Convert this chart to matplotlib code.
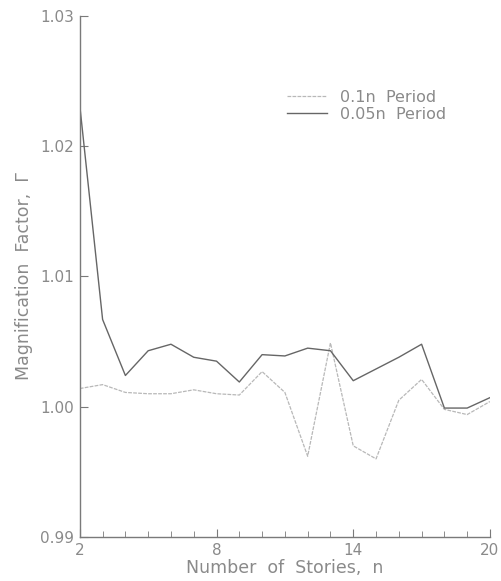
import matplotlib
matplotlib.use('Agg')
import matplotlib.pyplot as plt
import numpy as np

# Number of stories
stories = list(range(2, 21))

# Magnification factor for the two period assumptions
gamma_01n = [1.0014, 1.0017, 1.0011, 1.0010, 1.0010, 1.0013, 1.0010, 1.0009,
             1.0027, 1.0011, 0.9962, 1.0049, 0.9970, 0.9960, 1.0005, 1.0021,
             0.9998, 0.9994, 1.0004]
gamma_005n = [1.0231, 1.0067, 1.0024, 1.0043, 1.0048, 1.0038, 1.0035, 1.0019,
              1.0040, 1.0039, 1.0045, 1.0043, 1.0020, 1.0029, 1.0038, 1.0048,
              0.9999, 0.9999, 1.0007]

x_major = [2, 8, 14, 20]
y_ticks = [0.99, 1.00, 1.01, 1.02, 1.03]
y_labels = ['0.99', '1.00', '1.01', '1.02', '1.03']

TEXT = '#8a8a8a'
AXIS = '#7a7a7a'

plt.rcParams['font.family'] = ['DejaVu Sans']

fig = plt.figure(figsize=(5.02, 5.81), dpi=100)
ax = fig.add_axes([0.159, 0.0757, 0.817, 0.8968])

ax.plot(stories, gamma_01n, color='#b8b8b8', lw=0.9, linestyle=(0, (3, 1)),
        label='0.1n  Period')
ax.plot(stories, gamma_005n, color='#666666', lw=1.0, label='0.05n  Period')

ax.set_xlim(2, 20)
ax.set_ylim(0.99, 1.03)
ax.set_xticks(x_major)
ax.set_xticks(stories, minor=True)
ax.set_yticks(y_ticks)
ax.set_yticklabels(y_labels)

for s in ['top', 'right']:
    ax.spines[s].set_visible(False)
for s in ['left', 'bottom']:
    ax.spines[s].set_color(AXIS)
    ax.spines[s].set_linewidth(1.0)

ax.tick_params(which='both', direction='in', color=AXIS, labelcolor=TEXT,
               labelsize=11)
ax.tick_params(which='major', length=6, pad=4)
ax.tick_params(which='minor', length=4)

ax.set_xlabel('Number  of  Stories,  n', color=TEXT, fontsize=12.5, labelpad=1)
ax.set_ylabel('Magnification  Factor,  Γ', color=TEXT, fontsize=12.5, labelpad=5)

leg = ax.legend(loc='upper left', bbox_to_anchor=(0.505, 0.858), frameon=False,
                fontsize=11.5, handlelength=2.5, handletextpad=0.8,
                labelspacing=0.1, borderpad=0, borderaxespad=0,
                labelcolor=TEXT)

fig.savefig('out.png', dpi=100)
